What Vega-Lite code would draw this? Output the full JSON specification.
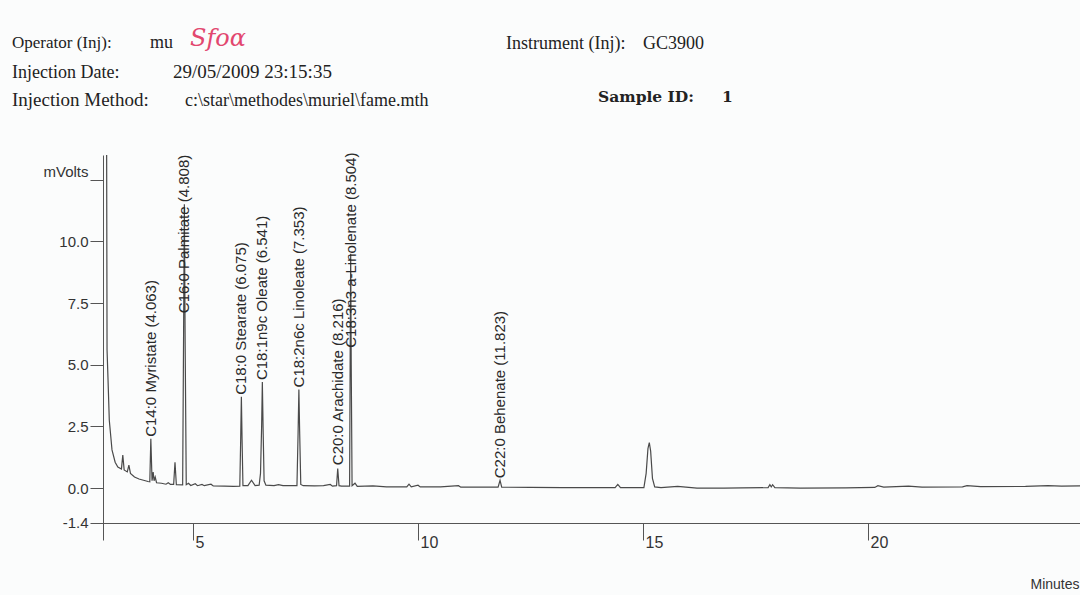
{
  "$schema": "https://vega.github.io/schema/vega-lite/v6.json",
  "width": 977,
  "height": 385,
  "autosize": {"type": "none"},
  "padding": {"left": 103, "top": 155, "right": 0, "bottom": 55},
  "background": "#fbfcfc",
  "config": {"view": {"stroke": null}},
  "datasets": {
    "trace": [
      {"t": 3.04, "mv": 14.5}, {"t": 3.08, "mv": 14.5}, {"t": 3.09, "mv": 5.6}, {"t": 3.11, "mv": 4.5},
      {"t": 3.14, "mv": 2.75}, {"t": 3.2, "mv": 1.55}, {"t": 3.27, "mv": 1.05}, {"t": 3.33, "mv": 0.86},
      {"t": 3.41, "mv": 0.78}, {"t": 3.44, "mv": 1.34}, {"t": 3.47, "mv": 0.74}, {"t": 3.54, "mv": 0.66},
      {"t": 3.575, "mv": 0.93}, {"t": 3.61, "mv": 0.6}, {"t": 3.7, "mv": 0.45}, {"t": 3.8, "mv": 0.37},
      {"t": 3.9, "mv": 0.32}, {"t": 4.0, "mv": 0.27}, {"t": 4.04, "mv": 0.26}, {"t": 4.063, "mv": 2.0},
      {"t": 4.09, "mv": 0.3}, {"t": 4.115, "mv": 0.65}, {"t": 4.135, "mv": 0.3}, {"t": 4.16, "mv": 0.45},
      {"t": 4.19, "mv": 0.22}, {"t": 4.3, "mv": 0.2}, {"t": 4.4, "mv": 0.16}, {"t": 4.45, "mv": 0.22},
      {"t": 4.5, "mv": 0.15}, {"t": 4.57, "mv": 0.15}, {"t": 4.6, "mv": 1.05}, {"t": 4.63, "mv": 0.14},
      {"t": 4.77, "mv": 0.13}, {"t": 4.79, "mv": 6.0}, {"t": 4.808, "mv": 11.5}, {"t": 4.825, "mv": 6.0},
      {"t": 4.85, "mv": 0.14}, {"t": 4.9, "mv": 0.2}, {"t": 4.95, "mv": 0.11}, {"t": 5.05, "mv": 0.18},
      {"t": 5.1, "mv": 0.1}, {"t": 5.2, "mv": 0.15}, {"t": 5.25, "mv": 0.1}, {"t": 5.4, "mv": 0.16},
      {"t": 5.45, "mv": 0.09}, {"t": 5.7, "mv": 0.08}, {"t": 5.9, "mv": 0.07}, {"t": 6.04, "mv": 0.08},
      {"t": 6.06, "mv": 2.0}, {"t": 6.075, "mv": 3.7}, {"t": 6.09, "mv": 2.0}, {"t": 6.11, "mv": 0.1},
      {"t": 6.22, "mv": 0.1}, {"t": 6.3, "mv": 0.32}, {"t": 6.38, "mv": 0.1}, {"t": 6.47, "mv": 0.12},
      {"t": 6.5, "mv": 0.6}, {"t": 6.525, "mv": 2.5}, {"t": 6.541, "mv": 4.3}, {"t": 6.56, "mv": 2.2},
      {"t": 6.58, "mv": 0.3}, {"t": 6.62, "mv": 0.12}, {"t": 6.8, "mv": 0.1}, {"t": 6.9, "mv": 0.14},
      {"t": 7.0, "mv": 0.1}, {"t": 7.31, "mv": 0.1}, {"t": 7.335, "mv": 2.2}, {"t": 7.353, "mv": 4.0},
      {"t": 7.37, "mv": 2.3}, {"t": 7.395, "mv": 0.15}, {"t": 7.45, "mv": 0.1}, {"t": 7.7, "mv": 0.09},
      {"t": 7.9, "mv": 0.1}, {"t": 8.05, "mv": 0.15}, {"t": 8.1, "mv": 0.08}, {"t": 8.19, "mv": 0.1},
      {"t": 8.216, "mv": 0.8}, {"t": 8.245, "mv": 0.1}, {"t": 8.3, "mv": 0.08}, {"t": 8.48, "mv": 0.08},
      {"t": 8.492, "mv": 5.0}, {"t": 8.504, "mv": 9.5}, {"t": 8.516, "mv": 5.0}, {"t": 8.535, "mv": 0.1},
      {"t": 8.6, "mv": 0.2}, {"t": 8.65, "mv": 0.07}, {"t": 9.0, "mv": 0.09}, {"t": 9.3, "mv": 0.05},
      {"t": 9.75, "mv": 0.05}, {"t": 9.8, "mv": 0.16}, {"t": 9.85, "mv": 0.05}, {"t": 10.0, "mv": 0.12},
      {"t": 10.05, "mv": 0.05}, {"t": 10.5, "mv": 0.05}, {"t": 10.9, "mv": 0.1}, {"t": 10.95, "mv": 0.04},
      {"t": 11.5, "mv": 0.04}, {"t": 11.78, "mv": 0.04}, {"t": 11.823, "mv": 0.32}, {"t": 11.86, "mv": 0.04},
      {"t": 12.5, "mv": 0.03}, {"t": 13.2, "mv": 0.02}, {"t": 14.0, "mv": 0.02}, {"t": 14.38, "mv": 0.02},
      {"t": 14.44, "mv": 0.15}, {"t": 14.5, "mv": 0.02}, {"t": 15.02, "mv": 0.02}, {"t": 15.07, "mv": 0.6},
      {"t": 15.11, "mv": 1.6}, {"t": 15.14, "mv": 1.85}, {"t": 15.17, "mv": 1.5}, {"t": 15.21, "mv": 0.4},
      {"t": 15.26, "mv": 0.05}, {"t": 15.4, "mv": 0.02}, {"t": 15.77, "mv": 0.07}, {"t": 16.2, "mv": 0.0},
      {"t": 16.8, "mv": 0.0}, {"t": 17.2, "mv": 0.01}, {"t": 17.78, "mv": 0.02}, {"t": 17.82, "mv": 0.14},
      {"t": 17.85, "mv": 0.05}, {"t": 17.88, "mv": 0.14}, {"t": 17.93, "mv": 0.02}, {"t": 18.5, "mv": 0.0},
      {"t": 19.5, "mv": 0.01}, {"t": 20.15, "mv": 0.03}, {"t": 20.22, "mv": 0.1}, {"t": 20.35, "mv": 0.04},
      {"t": 20.9, "mv": 0.08}, {"t": 21.2, "mv": 0.04}, {"t": 22.1, "mv": 0.05}, {"t": 22.2, "mv": 0.1},
      {"t": 22.5, "mv": 0.06}, {"t": 23.5, "mv": 0.07}, {"t": 24.0, "mv": 0.1}, {"t": 24.3, "mv": 0.08},
      {"t": 24.75, "mv": 0.09}
    ],
    "peaks": [
      {"label": "C14:0 Myristate (4.063)", "rt": 4.063, "h": 2.0},
      {"label": "C16:0 Palmitate (4.808)", "rt": 4.808, "h": 11.5},
      {"label": "C18:0 Stearate (6.075)", "rt": 6.075, "h": 3.7},
      {"label": "C18:1n9c Oleate (6.541)", "rt": 6.541, "h": 4.3},
      {"label": "C18:2n6c Linoleate (7.353)", "rt": 7.353, "h": 4.0},
      {"label": "C20:0 Arachidate (8.216)", "rt": 8.216, "h": 0.85},
      {"label": "C18:3n3 a-Linolenate (8.504)", "rt": 8.504, "h": 9.5},
      {"label": "C22:0 Behenate (11.823)", "rt": 11.823, "h": 0.32}
    ]
  },
  "layer": [
    {
      "data": {"name": "trace"},
      "mark": {"type": "line", "color": "#4a4a4a", "strokeWidth": 1.2, "clip": true},
      "encoding": {
        "x": {
          "field": "t", "type": "quantitative",
          "scale": {"domain": [3, 24.7111], "nice": false, "zero": false},
          "axis": {
            "values": [5, 10, 15, 20],
            "offset": -17,
            "grid": false,
            "domainColor": "#555555",
            "tickColor": "#555555",
            "tickSize": 17,
            "labelAlign": "left",
            "labelBaseline": "top",
            "labelPadding": -6,
            "labelOffset": 2,
            "labelFlush": false,
            "labelOverlap": false,
            "labelFont": "Liberation Sans",
            "labelFontSize": 16,
            "labelColor": "#333333",
            "title": "Minutes",
            "titleFont": "Liberation Sans",
            "titleFontSize": 14,
            "titleFontWeight": "normal",
            "titleColor": "#333333",
            "titleAlign": "left",
            "titleBaseline": "alphabetic",
            "titleX": 927,
            "titleY": 65
          }
        },
        "y": {
          "field": "mv", "type": "quantitative",
          "scale": {"domain": [-2.1, 13.5], "nice": false, "zero": false},
          "axis": {
            "values": [-1.4, 0, 2.5, 5, 7.5, 10, 12.5],
            "labelExpr": "datum.value == 12.5 ? 'mVolts' : (datum.value < 0 ? '-' + format(-datum.value, '.1f') : format(datum.value, '.1f'))",
            "grid": false,
            "domainColor": "#555555",
            "tickColor": "#555555",
            "tickSize": 13,
            "labelPadding": 2,
            "labelFlush": false,
            "labelOverlap": false,
            "labelBaseline": {"condition": {"test": "datum.value == 12.5", "value": "bottom"}, "value": "middle"},
            "labelFont": "Liberation Sans",
            "labelFontSize": 15,
            "labelColor": "#333333",
            "title": null
          }
        }
      }
    },
    {
      "data": {"name": "peaks"},
      "transform": [{"calculate": "min(datum.h, 13.45 - length(datum.label) * 0.28)", "as": "ly"}],
      "mark": {"type": "text", "angle": -90, "align": "left", "baseline": "middle", "dx": 2, "font": "Liberation Sans", "fontSize": 15, "color": "#2a2a2a"},
      "encoding": {
        "x": {"field": "rt", "type": "quantitative"},
        "y": {"field": "ly", "type": "quantitative"},
        "text": {"field": "label"}
      }
    },
    {
      "data": {"values": [{}]},
      "mark": {"type": "text", "align": "left", "baseline": "alphabetic", "font": "Liberation Serif", "fontSize": 17, "color": "#222222"},
      "encoding": {"x": {"datum": 0.978}, "y": {"datum": 17.836}, "text": {"value": "Operator (Inj):"}}
    },
    {
      "data": {"values": [{}]},
      "mark": {"type": "text", "align": "left", "baseline": "alphabetic", "font": "Liberation Serif", "fontSize": 18, "color": "#222222"},
      "encoding": {"x": {"datum": 0.978}, "y": {"datum": 16.6}, "text": {"value": "Injection Date:"}}
    },
    {
      "data": {"values": [{}]},
      "mark": {"type": "text", "align": "left", "baseline": "alphabetic", "font": "Liberation Serif", "fontSize": 19, "color": "#222222"},
      "encoding": {"x": {"datum": 0.978}, "y": {"datum": 15.485}, "text": {"value": "Injection Method:"}}
    },
    {
      "data": {"values": [{}]},
      "mark": {"type": "text", "align": "left", "baseline": "alphabetic", "font": "Liberation Serif", "fontSize": 18, "color": "#222222"},
      "encoding": {"x": {"datum": 4.044}, "y": {"datum": 17.836}, "text": {"value": "mu"}}
    },
    {
      "data": {"values": [{}]},
      "mark": {"type": "text", "align": "left", "baseline": "alphabetic", "font": "DejaVu Serif", "fontStyle": "italic", "fontSize": 24, "color": "#e2476f"},
      "encoding": {"x": {"datum": 4.933}, "y": {"datum": 17.9}, "text": {"value": "Sfoα"}}
    },
    {
      "data": {"values": [{}]},
      "mark": {"type": "text", "align": "left", "baseline": "alphabetic", "font": "Liberation Serif", "fontSize": 19, "color": "#222222"},
      "encoding": {"x": {"datum": 4.556}, "y": {"datum": 16.6}, "text": {"value": "29/05/2009 23:15:35"}}
    },
    {
      "data": {"values": [{}]},
      "mark": {"type": "text", "align": "left", "baseline": "alphabetic", "font": "Liberation Serif", "fontSize": 18, "color": "#222222"},
      "encoding": {"x": {"datum": 4.822}, "y": {"datum": 15.485}, "text": {"value": "c:\\star\\methodes\\muriel\\fame.mth"}}
    },
    {
      "data": {"values": [{}]},
      "mark": {"type": "text", "align": "left", "baseline": "alphabetic", "font": "Liberation Serif", "fontSize": 18, "color": "#222222"},
      "encoding": {"x": {"datum": 11.955}, "y": {"datum": 17.795}, "text": {"value": "Instrument (Inj):"}}
    },
    {
      "data": {"values": [{}]},
      "mark": {"type": "text", "align": "left", "baseline": "alphabetic", "font": "Liberation Serif", "fontSize": 18, "color": "#222222"},
      "encoding": {"x": {"datum": 15.0}, "y": {"datum": 17.795}, "text": {"value": "GC3900"}}
    },
    {
      "data": {"values": [{}]},
      "mark": {"type": "text", "align": "left", "baseline": "alphabetic", "font": "DejaVu Serif", "fontWeight": "bold", "fontSize": 15.5, "color": "#222222"},
      "encoding": {"x": {"datum": 14.0}, "y": {"datum": 15.648}, "text": {"value": "Sample ID:"}}
    },
    {
      "data": {"values": [{}]},
      "mark": {"type": "text", "align": "left", "baseline": "alphabetic", "font": "DejaVu Serif", "fontWeight": "bold", "fontSize": 15.5, "color": "#222222"},
      "encoding": {"x": {"datum": 16.756}, "y": {"datum": 15.648}, "text": {"value": "1"}}
    }
  ]
}
